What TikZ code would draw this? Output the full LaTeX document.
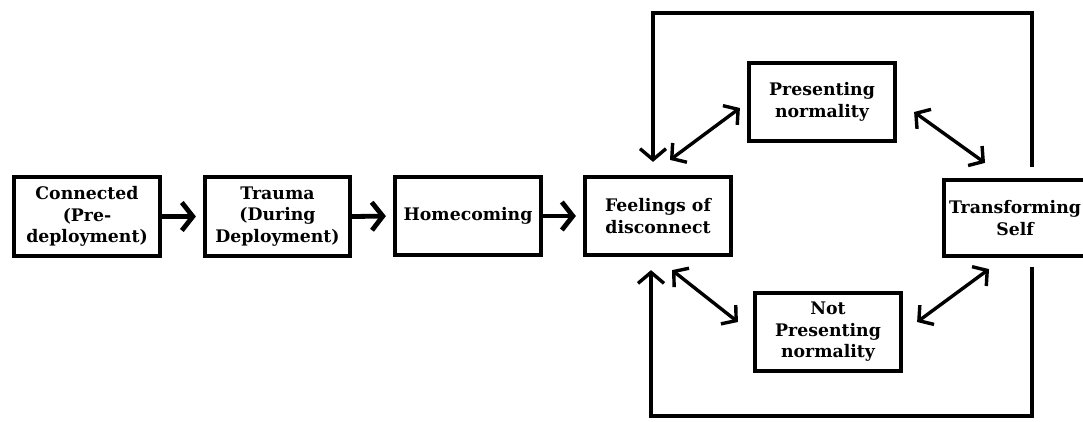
\documentclass[tikz,border=0pt]{standalone}
\usepackage{fontspec}
\setmainfont{DejaVu Serif}
\usetikzlibrary{arrows.meta}
\tikzset{
  boxnode/.style={draw, line width=4.2pt, rectangle, align=center, inner sep=2pt,
    font=\bfseries\fontsize{17.3}{21.5}\selectfont},
  flowarrow/.style={line width=4.8pt, -{Straight Barb[length=11pt, width=28pt, line width=4.8pt]}, shorten >=7pt},
  dblarrow/.style={line width=3.4pt, {Straight Barb[length=10pt, width=24pt, line width=3.4pt]}-{Straight Barb[length=10pt, width=24pt, line width=3.4pt]}},
  looparrow/.style={line width=3.4pt, -{Straight Barb[length=11pt, width=26pt, line width=3.4pt]}}
}
\begin{document}
\begin{tikzpicture}[x=1pt, y=-1pt]
\clip (0,0) rectangle (1083,421);
\fill[white] (0,0) rectangle (1083,421);
\node[boxnode, minimum width=146pt, minimum height=79pt] (b1) at (87,216.5) {Connected\\(Pre-\\deployment)};
\node[boxnode, minimum width=145pt, minimum height=79pt] (b2) at (277.5,216.5) {Trauma\\(During\\Deployment)};
\node[boxnode, minimum width=146pt, minimum height=78pt] (b3) at (468,216) {Homecoming};
\node[boxnode, minimum width=146pt, minimum height=78pt] (b4) at (658,216) {Feelings of\\disconnect};
\node[boxnode, minimum width=146pt, minimum height=78pt] (b5) at (822,102) {Presenting\\normality};
\node[boxnode, minimum width=146pt, minimum height=78pt] (b6) at (828,332) {Not\\Presenting\\normality};
\node[boxnode, minimum width=142pt, minimum height=76pt] (b7) at (1015,218) {Transforming\\Self};

\draw[flowarrow] (b1.east) -- (b2.west);
\draw[flowarrow] (b2.east) -- (b3.west);
\draw[flowarrow] (b3.east) -- (b4.west);

\coordinate (topR) at (1032,13);
\coordinate (topL) at (653,13);
\coordinate (botR) at (1032,416);
\coordinate (botL) at (651,416);
\draw[looparrow, line join=miter, shorten <=11pt, shorten >=13pt] (b7.north -| topR) -- (topR) -- (topL) -- (topL |- b4.north);
\draw[looparrow, line join=miter, shorten <=9pt, shorten >=13pt] (b7.south -| botR) -- (botR) -- (botL) -- (botL |- b4.south);

\draw[dblarrow] ([xshift=12pt, yshift=15pt]b4.north) -- ([xshift=-7pt, yshift=-6pt]b5.west);
\draw[dblarrow] ([xshift=17pt, yshift=-10pt]b5.east) -- ([xshift=-30pt, yshift=15pt]b7.north);
\draw[dblarrow] ([xshift=14pt, yshift=-13pt]b4.south) -- ([xshift=-15pt, yshift=10pt]b6.west);
\draw[dblarrow] ([xshift=14pt, yshift=10pt]b6.east) -- ([xshift=-26pt, yshift=-11pt]b7.south);
\end{tikzpicture}
\end{document}
